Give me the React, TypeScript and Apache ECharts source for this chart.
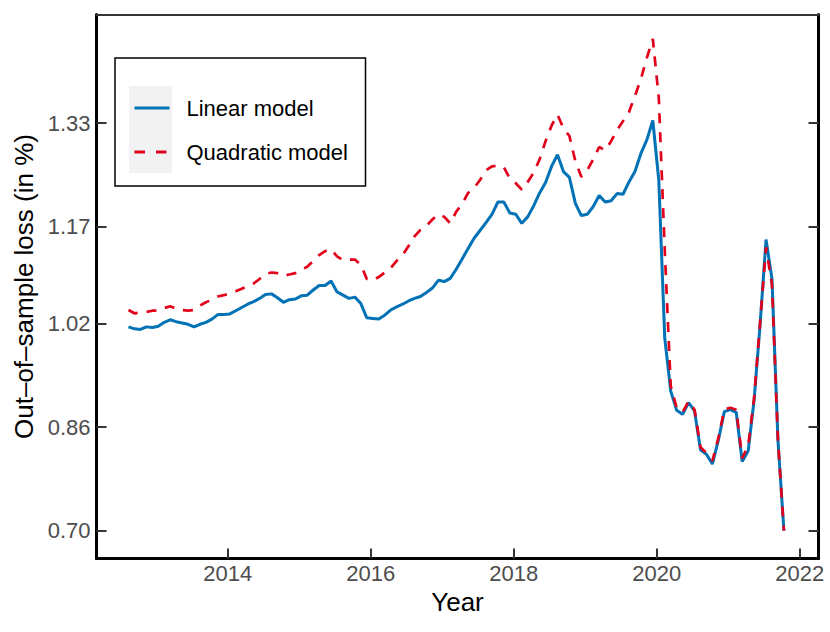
import React, { useEffect, useRef } from "react";
import * as echarts from "echarts";

// Monthly observations, first month = Aug 2012
const START_YEAR = 2012;
const START_MONTH = 8;
const DAY_FRACTION = 0.35; // position inside the month

const seriesNames = ["Linear model", "Quadratic model"];

const linearLoss = [
  1.015, 1.012, 1.011, 1.015, 1.014, 1.016, 1.022, 1.026, 1.023, 1.021,
  1.019, 1.015, 1.019, 1.022, 1.027, 1.034, 1.034, 1.035, 1.040, 1.045,
  1.050, 1.054, 1.059, 1.065, 1.066, 1.060, 1.053, 1.057, 1.058, 1.063,
  1.064, 1.072, 1.079, 1.079, 1.086, 1.069, 1.064, 1.059, 1.061, 1.051,
  1.029, 1.028, 1.027, 1.033, 1.041, 1.046, 1.050, 1.055, 1.059, 1.062,
  1.068, 1.075, 1.087, 1.085, 1.090, 1.104, 1.120, 1.136, 1.152, 1.164,
  1.176, 1.189, 1.208, 1.208, 1.191, 1.189, 1.175, 1.185, 1.202, 1.222,
  1.238, 1.263, 1.281, 1.255, 1.246, 1.206, 1.187, 1.189, 1.201, 1.218,
  1.208, 1.210, 1.221, 1.220, 1.239, 1.255, 1.283, 1.304, 1.334, 1.242,
  0.998, 0.916, 0.886, 0.880, 0.898, 0.885, 0.825, 0.818, 0.803, 0.840,
  0.884, 0.887, 0.883, 0.807, 0.823, 0.902, 1.018, 1.150, 1.089, 0.840,
  0.700,
];

const quadraticLoss = [
  1.041, 1.036, 1.037, 1.038, 1.040, 1.040, 1.044, 1.047, 1.043, 1.041,
  1.040, 1.041, 1.048, 1.053, 1.057, 1.062, 1.064, 1.067, 1.070, 1.074,
  1.078, 1.082, 1.089, 1.097, 1.099, 1.098, 1.094, 1.096, 1.098, 1.103,
  1.108, 1.117, 1.126, 1.132, 1.135, 1.124, 1.118, 1.119, 1.119, 1.111,
  1.089, 1.087, 1.092, 1.099, 1.106, 1.117, 1.126, 1.140, 1.155, 1.165,
  1.171, 1.181, 1.189, 1.185, 1.175, 1.193, 1.205, 1.222, 1.230, 1.242,
  1.257, 1.263, 1.264, 1.262, 1.244, 1.237, 1.227, 1.239, 1.253, 1.274,
  1.302, 1.326, 1.343, 1.322, 1.310, 1.271, 1.247, 1.257, 1.274, 1.293,
  1.288, 1.302, 1.319, 1.333, 1.347, 1.372, 1.398, 1.431, 1.460, 1.369,
  1.134, 0.924, 0.890, 0.883, 0.900, 0.887, 0.829, 0.820, 0.808, 0.843,
  0.887, 0.890, 0.887, 0.812, 0.831, 0.905, 1.021, 1.138, 1.080, 0.840,
  0.700,
];

const yTickValues = [0.7, 0.86, 1.02, 1.17, 1.33];
const xTickValues = [2014, 2016, 2018, 2020, 2022];

const X_MIN = 2012.165;
const X_MAX = 2022.263;
const Y_MIN = 0.657;
const Y_MAX = 1.4978;

const toYear = (i: number) => START_YEAR + (START_MONTH - 1 + i + DAY_FRACTION) / 12;

export default function App() {
  const ref = useRef<HTMLDivElement>(null);

  useEffect(() => {
    if (!ref.current) return;
    const chart = echarts.init(ref.current, null, { renderer: "svg" });
    const font = "'Liberation Sans', Arial, Helvetica, sans-serif";
    const blue = "#0072B5";
    const red = "#E2001A";

    const option: any = {
      animation: false,
      backgroundColor: "#ffffff",
      textStyle: { fontFamily: font },
      grid: { left: 96.5, top: 14.5, width: 722, height: 544, containLabel: false },
      xAxis: [
        {
          type: "value",
          position: "bottom",
          min: X_MIN,
          max: X_MAX,
          axisLine: { show: true, onZero: false, lineStyle: { color: "#000", width: 3 } },
          axisTick: {
            show: true,
            inside: true,
            length: 10,
            customValues: xTickValues,
            lineStyle: { color: "#333", width: 2 },
          },
          axisLabel: {
            show: true,
            customValues: xTickValues,
            formatter: (v: number) => String(Math.round(v)),
            color: "#4d4d4d",
            fontSize: 22,
            fontFamily: font,
            margin: 4,
          },
          splitLine: { show: false },
          name: "Year",
          nameLocation: "middle",
          nameGap: 29,
          nameTextStyle: { fontSize: 26, color: "#000", fontFamily: font },
        },
        {
          type: "value",
          position: "top",
          min: X_MIN,
          max: X_MAX,
          axisLine: { show: true, onZero: false, lineStyle: { color: "#333", width: 2 } },
          axisTick: { show: false },
          axisLabel: { show: false },
          splitLine: { show: false },
        },
      ],
      yAxis: [
        {
          type: "value",
          position: "left",
          min: Y_MIN,
          max: Y_MAX,
          axisLine: { show: true, onZero: false, lineStyle: { color: "#000", width: 3 } },
          axisTick: {
            show: true,
            inside: true,
            length: 10,
            customValues: yTickValues,
            lineStyle: { color: "#333", width: 2 },
          },
          axisLabel: {
            show: true,
            customValues: yTickValues,
            formatter: (v: number) => v.toFixed(2),
            color: "#4d4d4d",
            fontSize: 22,
            fontFamily: font,
            margin: 6,
          },
          splitLine: { show: false },
          name: "Out–of–sample loss (in %)",
          nameLocation: "middle",
          nameGap: 56,
          nameTextStyle: { fontSize: 26, color: "#000", fontFamily: font },
        },
        {
          type: "value",
          position: "right",
          min: Y_MIN,
          max: Y_MAX,
          axisLine: { show: true, onZero: false, lineStyle: { color: "#000", width: 3 } },
          axisTick: {
            show: true,
            inside: true,
            length: 10,
            customValues: yTickValues,
            lineStyle: { color: "#333", width: 2 },
          },
          axisLabel: { show: false },
          splitLine: { show: false },
        },
      ],
      legend: {
        orient: "vertical",
        left: 133,
        top: 95,
        padding: 0,
        itemGap: 18,
        itemWidth: 35,
        itemHeight: 14,
        selectedMode: false,
        z: 10,
        data: [
          { name: seriesNames[0], lineStyle: { color: blue, width: 3, type: "solid" } },
          { name: seriesNames[1], lineStyle: { color: red, width: 2.8, type: [10.5, 11] } },
        ],
        itemStyle: { opacity: 0 },
        textStyle: {
          fontSize: 22,
          color: "#000",
          fontFamily: font,
          lineHeight: 26,
          padding: [0, 0, 0, 12],
        },
      },
      graphic: [
        {
          type: "rect",
          z: 5,
          shape: { x: 115, y: 58, width: 250.5, height: 128 },
          style: { fill: "#ffffff", stroke: "#000", lineWidth: 1.5 },
        },
        {
          type: "rect",
          z: 6,
          shape: { x: 129, y: 86, width: 43, height: 87 },
          style: { fill: "#f2f2f2" },
        },
      ],
      series: [
        {
          name: seriesNames[0],
          type: "line",
          xAxisIndex: 0,
          yAxisIndex: 0,
          data: linearLoss.map((v, i) => [toYear(i), v]),
          symbol: "none",
          showSymbol: false,
          lineStyle: { color: blue, width: 3 },
          itemStyle: { color: blue },
          z: 2,
        },
        {
          name: seriesNames[1],
          type: "line",
          xAxisIndex: 0,
          yAxisIndex: 0,
          data: quadraticLoss.map((v, i) => [toYear(i), v]),
          symbol: "none",
          showSymbol: false,
          lineStyle: { color: red, width: 2.7, type: [10, 9] },
          itemStyle: { color: red },
          z: 3,
        },
      ],
    };

    chart.setOption(option);
    return () => chart.dispose();
  }, []);

  return (
    <div
      ref={ref}
      style={{ position: "fixed", left: 0, top: 0, width: 830, height: 632, background: "#fff" }}
    />
  );
}
